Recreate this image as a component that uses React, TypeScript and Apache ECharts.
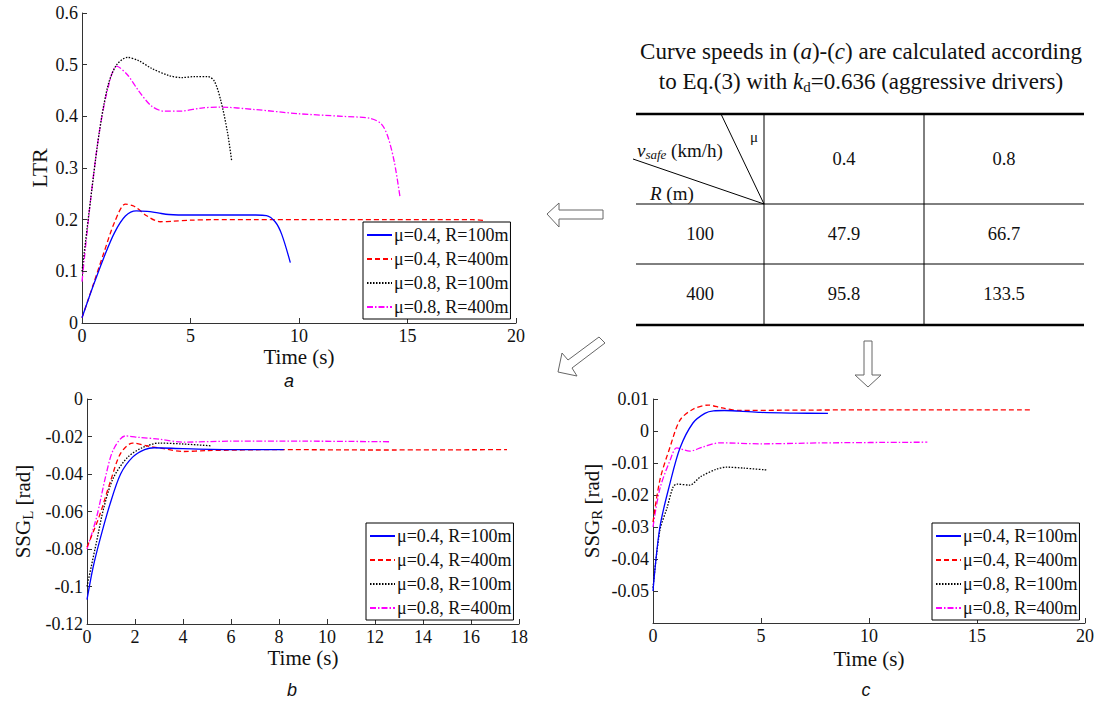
import React, { useEffect, useRef } from "react";
import * as echarts from "echarts";

const SERIF = "'Liberation Serif', 'Times New Roman', serif";
const SANS = "'Liberation Sans', Arial, sans-serif";

const seriesNames = ["μ=0.4, R=100m", "μ=0.4, R=400m", "μ=0.8, R=100m", "μ=0.8, R=400m"];
const seriesColors = ["#0000ff", "#ff0000", "#000000", "#ff00ff"];

// (a) LTR vs time
const ltrBlue = [[0, 0.01], [0.5, 0.07], [1, 0.126], [1.5, 0.175], [2, 0.207], [2.5, 0.217], [3, 0.216], [3.5, 0.213], [4, 0.21], [5, 0.209], [6, 0.209], [7, 0.209], [8, 0.209], [8.5, 0.208], [8.9, 0.196], [9.2, 0.172], [9.6, 0.117]];
const ltrRed = [[0, 0.01], [0.5, 0.072], [1, 0.135], [1.5, 0.195], [2, 0.23], [2.4, 0.226], [3, 0.207], [3.6, 0.196], [4.2, 0.197], [5, 0.199], [6, 0.2], [8, 0.2], [10, 0.2], [12, 0.2], [14, 0.2], [16, 0.2], [18, 0.2], [18.6, 0.198]];
const ltrBlack = [[0, 0.1], [0.4, 0.24], [0.8, 0.37], [1.2, 0.46], [1.6, 0.5], [2.1, 0.514], [2.6, 0.508], [3.2, 0.493], [4, 0.479], [4.6, 0.475], [5.2, 0.477], [5.8, 0.477], [6.1, 0.468], [6.4, 0.43], [6.7, 0.37], [6.9, 0.313]];
const ltrMagenta = [[0, 0.08], [0.4, 0.24], [0.8, 0.37], [1.2, 0.455], [1.6, 0.497], [2.1, 0.48], [2.6, 0.45], [3.2, 0.42], [3.8, 0.41], [4.5, 0.41], [5.5, 0.416], [6.3, 0.418], [8, 0.413], [10, 0.405], [12, 0.4], [13.3, 0.396], [13.8, 0.385], [14.1, 0.36], [14.4, 0.31], [14.65, 0.245]];

// (b) SSG_L vs time
const ssgLBlue = [[0, -0.107], [0.25, -0.09], [0.54, -0.075], [0.96, -0.056], [1.4, -0.04], [1.9, -0.031], [2.4, -0.027], [2.8, -0.026], [4, -0.0265], [6, -0.027], [8.2, -0.027]];
const ssgLRed = [[0, -0.079], [0.5, -0.063], [1, -0.043], [1.4, -0.029], [1.9, -0.0235], [2.5, -0.025], [3.2, -0.0265], [4, -0.028], [5, -0.0275], [8, -0.027], [12, -0.0272], [17.5, -0.027]];
const ssgLBlack = [[0, -0.1], [0.4, -0.076], [0.7, -0.058], [1.1, -0.042], [1.7, -0.031], [2.3, -0.026], [3, -0.0235], [4, -0.024], [5.2, -0.025]];
const ssgLMagenta = [[0, -0.08], [0.4, -0.063], [0.8, -0.04], [1.1, -0.027], [1.6, -0.0197], [2.2, -0.0205], [3, -0.0214], [4, -0.023], [6, -0.0225], [9, -0.0225], [12.6, -0.0228]];

// (c) SSG_R vs time
const ssgRBlue = [[0, -0.05], [0.32, -0.03], [0.8, -0.016], [1.25, -0.0053], [1.85, 0.0025], [2.4, 0.0055], [2.8, 0.0063], [3.3, 0.0064], [4, 0.0062], [5, 0.0058], [6.5, 0.0056], [8.1, 0.0055]];
const ssgRRed = [[0, -0.0285], [0.32, -0.0153], [0.79, -0.005], [1.25, 0.0034], [1.85, 0.0068], [2.55, 0.0081], [3.2, 0.0072], [4, 0.0064], [6, 0.0065], [10, 0.0066], [14, 0.0066], [17.5, 0.0066]];
const ssgRBlack = [[0, -0.049], [0.32, -0.031], [0.65, -0.024], [0.93, -0.0175], [1.1, -0.0166], [1.7, -0.0169], [2.2, -0.0143], [2.95, -0.0119], [3.4, -0.0113], [4.2, -0.0116], [5.3, -0.0122]];
const ssgRMagenta = [[0, -0.03], [0.32, -0.018], [0.8, -0.009], [1.1, -0.0053], [1.7, -0.0063], [2.3, -0.005], [3.1, -0.0037], [5, -0.004], [8, -0.0037], [12.7, -0.0035]];

// table
const muHeaders = ["0.4", "0.8"];
const radiusLabels = ["100", "400"];
const speedValues = [["47.9", "66.7"], ["95.8", "133.5"]];

const lineTypes: any[] = ["solid", [5, 3], [1.5, 1.5], [6, 2, 1.5, 2]];

function fmt(v: number) {
  return String(parseFloat(v.toFixed(4)));
}

export default function App() {
  const ref = useRef<HTMLDivElement>(null);
  useEffect(() => {
    if (!ref.current) return;
    const chart = echarts.init(ref.current, null, { renderer: "svg" });

    const axisLine = { show: true, onZero: false, lineStyle: { color: "#333", width: 1 } };
    const axisTick = { show: true, inside: true, length: 5, lineStyle: { color: "#333" } };
    const axisLabel = { color: "#111", fontFamily: SERIF, fontSize: 18, margin: 4, formatter: (v: number) => fmt(v) };
    const nameStyle = { color: "#111", fontFamily: SERIF, fontSize: 21 };

    const xAxis = (gi: number, max: number, interval: number, gap: number) => ({
      type: "value", gridIndex: gi, min: 0, max, interval,
      axisLine, axisTick, axisLabel, splitLine: { show: false },
      name: "Time (s)", nameLocation: "middle", nameGap: gap, nameTextStyle: nameStyle,
    });

    const subRich = {
      n: { fontFamily: SERIF, fontSize: 21, lineHeight: 24, color: "#111" },
      s: { fontFamily: SERIF, fontSize: 15, lineHeight: 12, verticalAlign: "bottom", color: "#111" },
    };

    const groups = [
      [ltrBlue, ltrRed, ltrBlack, ltrMagenta],
      [ssgLBlue, ssgLRed, ssgLBlack, ssgLMagenta],
      [ssgRBlue, ssgRRed, ssgRBlack, ssgRMagenta],
    ];
    const series: any[] = [];
    groups.forEach((g, gi) => {
      g.forEach((d, si) => {
        series.push({
          type: "line", name: seriesNames[si], xAxisIndex: gi, yAxisIndex: gi,
          data: d, showSymbol: false, symbol: "none", smooth: 0.3,
          lineStyle: { color: seriesColors[si], width: 1.3, type: lineTypes[si] },
          itemStyle: { color: seriesColors[si] },
          z: 10 - si,
        });
      });
    });

    const legend = (left: number, top: number) => ({
      left, top, orient: "vertical", data: seriesNames,
      backgroundColor: "#fff", borderColor: "#000", borderWidth: 1,
      padding: [4, 2, 3, 3], itemGap: 6, itemWidth: 25, itemHeight: 14,
      itemStyle: { opacity: 0 },
      textStyle: { fontFamily: SERIF, fontSize: 18, color: "#111", padding: [0, 0, 0, -3] },
      selectedMode: false, z: 20,
    });

    const txt = (x: number, y: number, text: string, extra: any = {}) => ({
      type: "text", x, y,
      style: { text, fontFamily: SERIF, fontSize: 18.5, fill: "#111", align: "center", verticalAlign: "middle", ...extra },
    });
    const line = (x1: number, y1: number, x2: number, y2: number, w = 1) => ({
      type: "line", shape: { x1, y1, x2, y2 }, style: { stroke: "#000", lineWidth: w },
    });
    const arrowStyle = { fill: "#fff", stroke: "#666", lineWidth: 1 };

    const colX = [700, 844, 1004];
    const rowY = [159, 234, 294];

    const graphic: any[] = [
      // title above table
      txt(861, 51, "Curve speeds in ({i|a})-({i|c}) are calculated according", {
        fontSize: 23,
        rich: { i: { fontFamily: SERIF, fontSize: 23, fontStyle: "italic", fill: "#111" } },
      }),
      txt(861, 81, "to Eq.(3) with {i|k}{s|d}=0.636 (aggressive drivers)", {
        fontSize: 23,
        rich: {
          i: { fontFamily: SERIF, fontSize: 23, fontStyle: "italic", lineHeight: 26, fill: "#111" },
          s: { fontFamily: SERIF, fontSize: 15, lineHeight: 12, verticalAlign: "bottom", fill: "#111" },
        },
      }),
      // table lines
      line(636, 114, 1084, 114, 2.5),
      line(636, 325, 1084, 325, 2.5),
      line(636, 204, 1084, 204),
      line(636, 264, 1084, 264),
      line(764, 114, 764, 325),
      line(924, 114, 924, 325),
      line(721, 114, 764, 204),
      line(633, 159, 764, 204),
      txt(754, 137, "μ", { fontSize: 15 }),
      txt(637, 150, "{v|v}{s|safe} (km/h)", {
        align: "left", fontSize: 19,
        rich: {
          v: { fontFamily: SERIF, fontSize: 19, fontStyle: "italic", lineHeight: 22, fill: "#111" },
          s: { fontFamily: SERIF, fontSize: 13, fontStyle: "italic", lineHeight: 12, verticalAlign: "bottom", fill: "#111" },
        },
      }),
      txt(650, 193, "{i|R} (m)", {
        align: "left", fontSize: 19,
        rich: { i: { fontFamily: SERIF, fontSize: 19, fontStyle: "italic", fill: "#111" } },
      }),
      txt(colX[1], rowY[0], muHeaders[0]),
      txt(colX[2], rowY[0], muHeaders[1]),
      txt(colX[0], rowY[1], radiusLabels[0]),
      txt(colX[0], rowY[2], radiusLabels[1]),
      txt(colX[1], rowY[1], speedValues[0][0]),
      txt(colX[2], rowY[1], speedValues[0][1]),
      txt(colX[1], rowY[2], speedValues[1][0]),
      txt(colX[2], rowY[2], speedValues[1][1]),
      // arrows
      { type: "polygon", shape: { points: [[547, 214], [559, 203], [559, 210], [603, 210], [603, 219], [559, 219], [559, 227]] }, style: arrowStyle },
      { type: "polygon", shape: { points: [[558, 372], [562, 353], [568, 360], [599, 337], [605, 343], [572, 368], [577, 376]] }, style: arrowStyle },
      { type: "polygon", shape: { points: [[864, 341], [872, 341], [872, 375], [881, 375], [868, 387], [855, 375], [864, 375]] }, style: arrowStyle },
      // sub captions
      txt(289, 381, "a", { fontFamily: SANS, fontStyle: "italic", fontSize: 18 }),
      txt(292, 690, "b", { fontFamily: SANS, fontStyle: "italic", fontSize: 18 }),
      txt(866, 690, "c", { fontFamily: SANS, fontStyle: "italic", fontSize: 18 }),
    ];

    chart.setOption({
      animation: false,
      backgroundColor: "#fff",
      grid: [
        { left: 82, top: 13, width: 434, height: 310 },
        { left: 87, top: 399, width: 432, height: 225 },
        { left: 653, top: 399, width: 433, height: 224 },
      ],
      xAxis: [xAxis(0, 20, 5, 23), xAxis(1, 18, 2, 23), xAxis(2, 20, 5, 25)],
      yAxis: [
        {
          type: "value", gridIndex: 0, min: 0, max: 0.6, interval: 0.1,
          axisLine, axisTick, axisLabel, splitLine: { show: false },
          name: "LTR", nameLocation: "middle", nameGap: 32, nameTextStyle: { ...nameStyle, fontSize: 22 },
        },
        {
          type: "value", gridIndex: 1, min: -0.12, max: 0, interval: 0.02,
          axisLine, axisTick, axisLabel, splitLine: { show: false },
          name: "{n|SSG}{s|L}{n| [rad]}", nameLocation: "middle", nameGap: 52,
          nameTextStyle: { ...nameStyle, rich: subRich },
        },
        {
          type: "value", gridIndex: 2, min: -0.06, max: 0.01, interval: 0.01,
          axisLine, axisTick,
          axisLabel: { ...axisLabel, formatter: (v: number) => (Math.abs(v + 0.06) < 1e-9 ? "" : fmt(v)) },
          splitLine: { show: false },
          name: "{n|SSG}{s|R}{n| [rad]}", nameLocation: "middle", nameGap: 49,
          nameTextStyle: { ...nameStyle, rich: subRich },
        },
      ],
      legend: [legend(363, 222), legend(366, 523), legend(932, 523)],
      series,
      graphic,
    });
    return () => chart.dispose();
  }, []);
  return <div ref={ref} style={{ position: "absolute", left: 0, top: 0, width: 1097, height: 702 }} />;
}
